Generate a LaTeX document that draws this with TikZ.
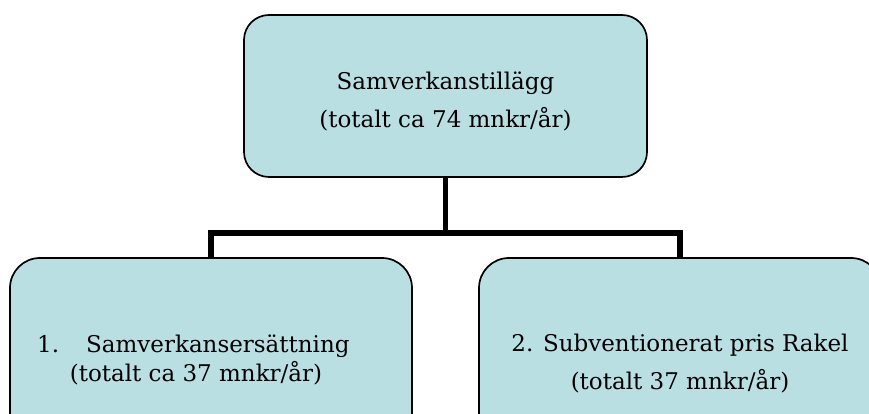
\documentclass[tikz,border=0pt]{standalone}
\usepackage{fontspec}
\setmainfont{DejaVu Serif}
\definecolor{boxfill}{RGB}{185,223,227}
\begin{document}
\begin{tikzpicture}[x=1pt,y=1pt,
  box/.style={draw=black,line width=1.7pt,fill=boxfill,inner sep=0pt},
  conn/.style={draw=black,line width=5.5pt,line join=miter},
  txt/.style={inner sep=0pt,font=\fontsize{23}{27}\selectfont}]
\useasboundingbox (0,0) rectangle (869,414);
\clip (0,0) rectangle (869,414);
% boxes
\node[box,rounded corners=25pt,minimum width=403pt,minimum height=162pt] (top) at (445.5,318) {};
\node[box,rounded corners=30pt,minimum width=402pt,minimum height=216pt] (lb) at (211,48) {};
\node[box,rounded corners=30pt,minimum width=402pt,minimum height=216pt] (rb) at (680,48) {};
% connectors
\coordinate (bus) at (445.5,181);
\draw[conn] (top.south) -- (top.south |- bus);
\draw[conn] (lb.north) |- (rb.north |- bus) -- (rb.north);
% texts
\node[txt,anchor=base] (t1) at (445.5,324) {Samverkanstillägg};
\node[txt,anchor=base] (t2) at (445.5,286) {(totalt ca 74 mnkr/år)};
\node[txt,anchor=base west] (l1) at (37,61) {\makebox[49pt][l]{1.}Samverkansersättning};
\node[txt,anchor=base] (l2) at (196,32) {(totalt ca 37 mnkr/år)};
\node[txt,anchor=base] (r1) at (680,62) {2. Subventionerat pris Rakel};
\node[txt,anchor=base] (r2) at (680,24) {(totalt 37 mnkr/år)};
\end{tikzpicture}
\end{document}
